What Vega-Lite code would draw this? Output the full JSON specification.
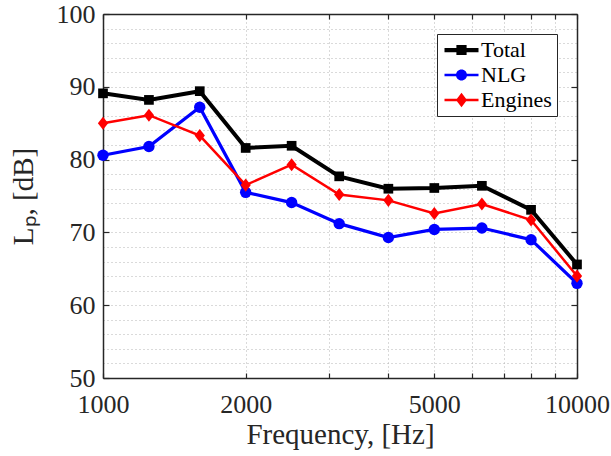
{
  "$schema": "https://vega.github.io/schema/vega-lite/v6.json",
  "width": 474,
  "height": 364,
  "autosize": {"type": "none"},
  "padding": {"left": 103, "top": 14, "right": 34, "bottom": 78},
  "background": "white",
  "data": {
    "values": [
      {"f": 1000, "series": "Total", "L": 89.1},
      {"f": 1250, "series": "Total", "L": 88.2},
      {"f": 1600, "series": "Total", "L": 89.4},
      {"f": 2000, "series": "Total", "L": 81.6},
      {"f": 2500, "series": "Total", "L": 81.9},
      {"f": 3150, "series": "Total", "L": 77.7},
      {"f": 4000, "series": "Total", "L": 76.0},
      {"f": 5000, "series": "Total", "L": 76.1},
      {"f": 6300, "series": "Total", "L": 76.4},
      {"f": 8000, "series": "Total", "L": 73.1},
      {"f": 10000, "series": "Total", "L": 65.6},
      {"f": 1000, "series": "NLG", "L": 80.6},
      {"f": 1250, "series": "NLG", "L": 81.8},
      {"f": 1600, "series": "NLG", "L": 87.2},
      {"f": 2000, "series": "NLG", "L": 75.5},
      {"f": 2500, "series": "NLG", "L": 74.1},
      {"f": 3150, "series": "NLG", "L": 71.2},
      {"f": 4000, "series": "NLG", "L": 69.3},
      {"f": 5000, "series": "NLG", "L": 70.4},
      {"f": 6300, "series": "NLG", "L": 70.6},
      {"f": 8000, "series": "NLG", "L": 69.0},
      {"f": 10000, "series": "NLG", "L": 63.0},
      {"f": 1000, "series": "Engines", "L": 85.0},
      {"f": 1250, "series": "Engines", "L": 86.1},
      {"f": 1600, "series": "Engines", "L": 83.3},
      {"f": 2000, "series": "Engines", "L": 76.5},
      {"f": 2500, "series": "Engines", "L": 79.3},
      {"f": 3150, "series": "Engines", "L": 75.2},
      {"f": 4000, "series": "Engines", "L": 74.4},
      {"f": 5000, "series": "Engines", "L": 72.6},
      {"f": 6300, "series": "Engines", "L": 73.9},
      {"f": 8000, "series": "Engines", "L": 71.7},
      {"f": 10000, "series": "Engines", "L": 64.0}
    ]
  },
  "layer": [
    {
      "mark": {"type": "line", "clip": false},
      "encoding": {
        "x": {
          "field": "f", "type": "quantitative",
          "scale": {"type": "log", "domain": [1000, 10000], "nice": false},
          "axis": {
            "orient": "bottom",
            "values": [1000, 2000, 3000, 4000, 5000, 6000, 7000, 8000, 9000, 10000],
            "format": "d",
            "labelExpr": "(datum.value == 1000 || datum.value == 2000 || datum.value == 5000 || datum.value == 10000) ? datum.label : ''",
            "title": "Frequency, [Hz]",
            "grid": true,
            "tickSize": -5,
            "labelPadding": 18,
            "labelFlush": false,
            "labelOverlap": false,
            "titlePadding": 3
          }
        },
        "y": {
          "field": "L", "type": "quantitative",
          "scale": {"domain": [50, 100], "nice": false, "zero": false},
          "axis": {
            "orient": "left",
            "values": [50, 52, 54, 56, 58, 60, 62, 64, 66, 68, 70, 72, 74, 76, 78, 80, 82, 84, 86, 88, 90, 92, 94, 96, 98, 100],
            "labelExpr": "datum.value % 10 === 0 ? datum.label : ''",
            "tickOpacity": {"condition": {"test": "datum.value % 10 === 0", "value": 1}, "value": 0},
            "title": "Lₚ, [dB]",
            "grid": true,
            "tickSize": -6,
            "labelPadding": 14,
            "labelOverlap": false,
            "titlePadding": 18
          }
        },
        "color": {
          "field": "series", "type": "nominal",
          "scale": {"domain": ["Total", "NLG", "Engines"], "range": ["#000000", "#0000ff", "#ff0000"]},
          "legend": null
        },
        "strokeWidth": {
          "field": "series", "type": "nominal",
          "scale": {"domain": ["Total", "NLG", "Engines"], "range": [4, 2.5, 2.5]},
          "legend": null
        }
      }
    },
    {
      "mark": {"type": "point", "filled": true, "opacity": 1, "strokeWidth": 0, "size": 130, "clip": false},
      "encoding": {
        "x": {"field": "f", "type": "quantitative", "axis": null},
        "y": {"field": "L", "type": "quantitative", "axis": null},
        "color": {"field": "series", "type": "nominal", "legend": null},
        "shape": {
          "field": "series", "type": "nominal",
          "scale": {"domain": ["Total", "NLG", "Engines"], "range": ["M-0.85,-0.85H0.85V0.85H-0.85Z", "circle", "M0,-1.15L0.9,0L0,1.15L-0.9,0Z"]},
          "legend": null
        }
      }
    },
    {
      "mark": {"type": "point", "filled": true, "size": 0, "strokeWidth": 0},
      "encoding": {
        "x": {"field": "f", "type": "quantitative", "axis": null},
        "y": {"field": "L", "type": "quantitative", "axis": null},
        "fill": {
          "field": "series", "type": "nominal",
          "scale": {"domain": ["Total", "NLG", "Engines"], "range": ["#000000", "#0000ff", "#ff0000"]},
          "legend": {"title": null}
        },
        "shape": {
          "field": "series", "type": "nominal",
          "scale": {"domain": ["Total", "NLG", "Engines"], "range": [
            "M-1,-0.25H3V0.25H-1Z M0.4,-0.6H1.6V0.6H0.4Z",
            "M-1,-0.15H3V0.15H-1Z M0.35,0A0.65,0.65,0,1,1,1.65,0A0.65,0.65,0,1,1,0.35,0Z",
            "M-1,-0.15H3V0.15H-1Z M1,-0.85L1.65,0L1,0.85L0.35,0Z"
          ]},
          "legend": {"title": null}
        }
      }
    },
    {
      "mark": {"type": "point", "size": 0, "opacity": 0},
      "encoding": {
        "x": {
          "field": "f", "type": "quantitative",
          "axis": {"orient": "top", "values": [1000, 2000, 3000, 4000, 5000, 6000, 7000, 8000, 9000, 10000], "labels": false, "grid": false, "tickSize": -5, "title": null}
        },
        "y": {
          "field": "L", "type": "quantitative",
          "axis": {"orient": "right", "values": [50, 60, 70, 80, 90, 100], "labels": false, "grid": false, "tickSize": -6, "title": null}
        }
      }
    }
  ],
  "resolve": {"scale": {"shape": "independent", "fill": "independent"}, "axis": {"x": "independent", "y": "independent"}},
  "config": {
    "view": {"stroke": null},
    "font": "Liberation Serif",
    "axis": {
      "labelFont": "Liberation Serif",
      "labelFontSize": 26,
      "labelColor": "#262626",
      "titleFont": "Liberation Serif",
      "titleFontSize": 29,
      "titleFontWeight": "normal",
      "titleColor": "#262626",
      "domainColor": "#262626",
      "domainWidth": 1.5,
      "tickColor": "#262626",
      "tickWidth": 1.2,
      "gridColor": "#b4b4b4",
      "gridDash": [1, 3],
      "gridWidth": 1
    },
    "legend": {
      "orient": "top-right",
      "offset": 20,
      "padding": 5,
      "strokeColor": "#262626",
      "fillColor": "white",
      "labelFont": "Liberation Serif",
      "labelFontSize": 22,
      "labelColor": "#000000",
      "labelOffset": 17,
      "symbolSize": 289,
      "symbolStrokeWidth": 0,
      "symbolOpacity": 1,
      "rowPadding": 3
    }
  }
}
